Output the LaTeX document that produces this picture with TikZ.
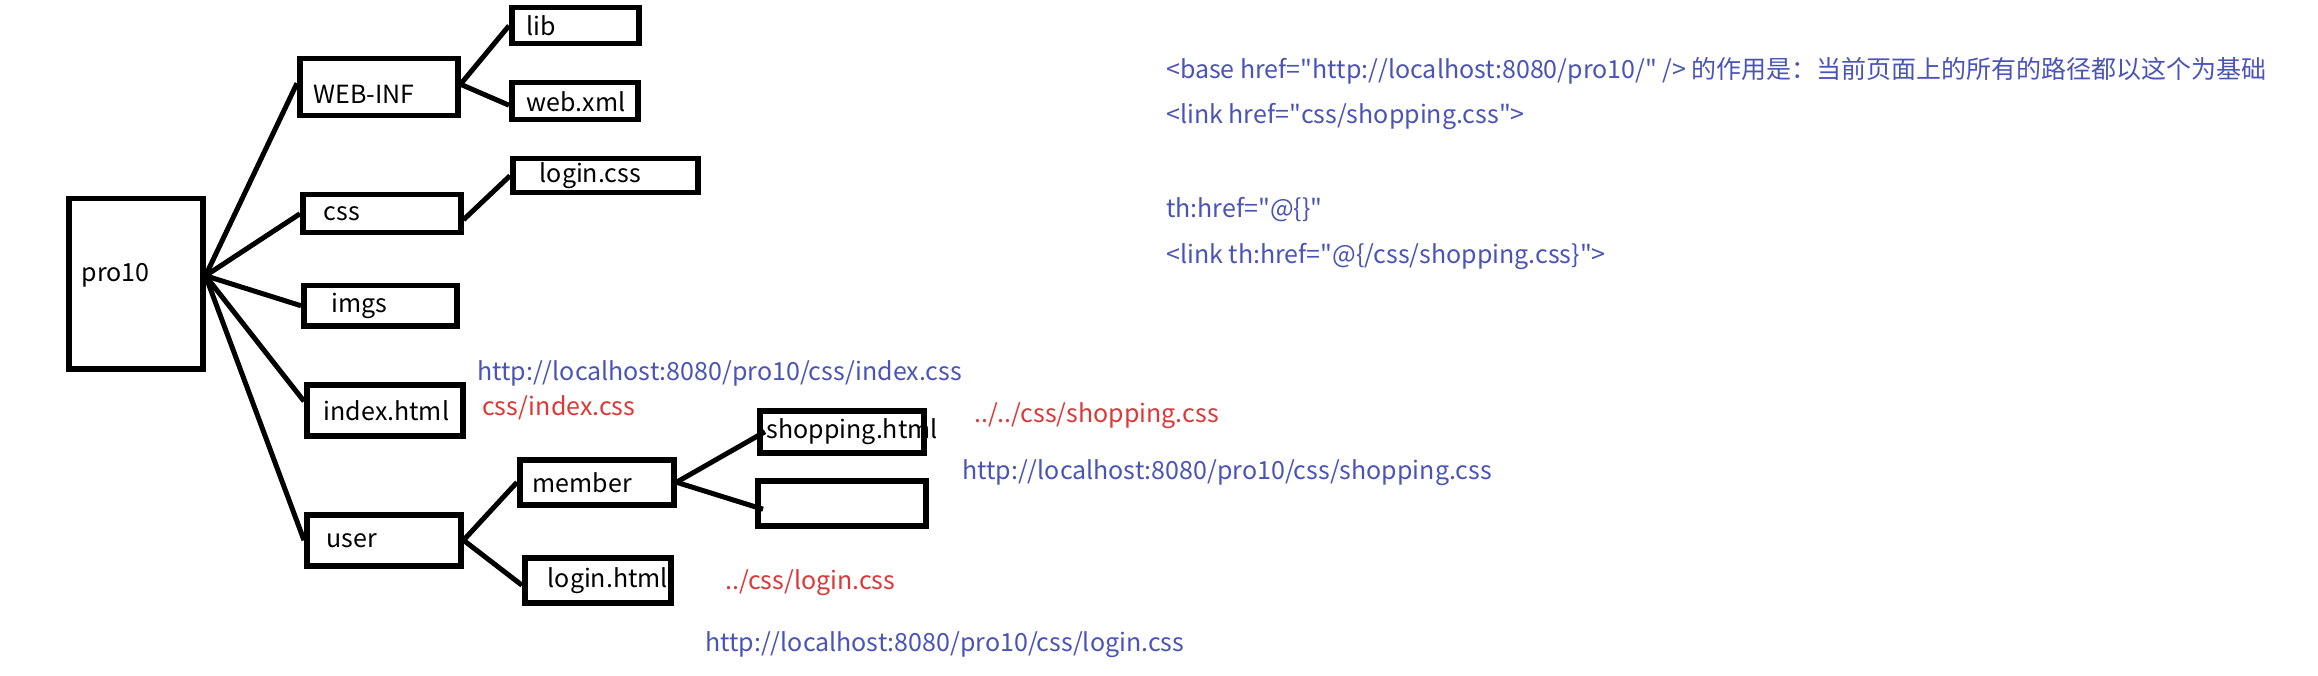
\documentclass[tikz,border=0pt]{standalone}
\usepackage{fontspec}
\setmainfont{Noto Sans CJK SC}
\usepackage{xcolor}
\usepackage{tikz}
\usetikzlibrary{positioning}

\definecolor{pathblue}{RGB}{74,84,184}
\definecolor{pathred}{RGB}{221,56,56}
\newcommand{\q}{\textquotedbl}

\begin{document}
\begin{tikzpicture}[
  x=1pt, y=-1pt,
  font=\fontsize{25}{30}\selectfont,
  box/.style={draw, line width=5.5pt, anchor=north west, align=left, inner ysep=0pt},
  link/.style={line width=5pt},
  bluenote/.style={anchor=west, inner sep=0pt, text=pathblue},
  rednote/.style={anchor=west, inner sep=0pt, text=pathred}
]
\useasboundingbox (0,0) rectangle (2318,676);

\node[box, text width=108pt, inner xsep=13pt, minimum height=170pt, text depth=22pt] (pro10) at (66,196) {pro10};
\node[box, text width=130pt, inner xsep=14pt, minimum height=57pt, text height=32pt] (webinf) at (297,56) {WEB-INF};
\node[box, text width=97pt, inner xsep=15pt, minimum height=36pt] (lib) at (509,5) {lib};
\node[box, text width=96pt, inner xsep=15pt, minimum height=37pt] (webxml) at (509,80) {web.xml};
\node[box, text width=116pt, inner xsep=21pt, minimum height=38pt] (css) at (300,192) {css};
\node[box, text width=131pt, inner xsep=27pt, minimum height=34pt] (logincss) at (510,156) {login.css};
\node[box, text width=97pt, inner xsep=28pt, minimum height=40pt] (imgs) at (301,283) {imgs};
\node[box, text width=122pt, inner xsep=17pt, minimum height=51pt] (index) at (304,382) {index.html};
\node[box, text width=114pt, inner xsep=20pt, minimum height=51pt] (user) at (304,512) {user};
\node[box, text width=128pt, inner xsep=13pt, minimum height=45pt] (member) at (517,457) {member};
\node[box, text width=100pt, inner xsep=23pt, minimum height=45pt] (loginhtml) at (522,555) {login.html};
\node[box, text width=150pt, inner xsep=7pt, minimum height=42pt] (shopping) at (757,408) {\mbox{shopping.html}};
\node[box, minimum width=168pt, minimum height=45pt] (blank) at (755,478) {};

\draw[link] ([yshift=8pt]pro10.east) -- ([yshift=4pt]webinf.west);
\draw[link] ([yshift=8pt]pro10.east) -- (css.west);
\draw[link] ([yshift=8pt]pro10.east) -- (imgs.west);
\draw[link] ([yshift=8pt]pro10.east) -- ([yshift=9pt]index.west);
\draw[link] ([yshift=8pt]pro10.east) -- (user.west);
\draw[link] ([yshift=3pt]webinf.east) -- (lib.west);
\draw[link] ([yshift=3pt]webinf.east) -- ([yshift=-4pt]webxml.west);
\draw[link] ([yshift=-6pt]css.east) -- (logincss.west);
\draw[link] (user.east) -- (member.west);
\draw[link] (user.east) -- ([yshift=-5pt]loginhtml.west);
\draw[link] (member.east) -- ([xshift=8pt]shopping.west);
\draw[link] (member.east) -- ([xshift=8pt, yshift=-6pt]blank.west);

\node[bluenote] (urlindex) at (477,373) {http://localhost:8080/pro10/css/index.css};
\node[rednote] (relindex) at (482,408) {css/index.css};
\node[rednote] (relshop) at (974,416) {../../css/shopping.css};
\node[bluenote] (urlshop) at (962,473) {http://localhost:8080/pro10/css/shopping.css};
\node[rednote] (rellogin) at (725,583) {../css/login.css};
\node[bluenote] (urllogin) at (705,645) {http://localhost:8080/pro10/css/login.css};

\node[bluenote] (base) at (1166,71) {<base href=\q http://localhost:8080/pro10/\q{} /> 的作用是：当前页面上的所有的路径都以这个为基础};
\node[bluenote] (linkplain) at (1166,117) {<link href=\q css/shopping.css\q>};
\node[bluenote] (thhref) at (1166,210) {th:href=\q @\{\}\q};
\node[bluenote] (linkth) at (1166,257) {<link th:href=\q @\{/css/shopping.css\}\q>};
\end{tikzpicture}
\end{document}
